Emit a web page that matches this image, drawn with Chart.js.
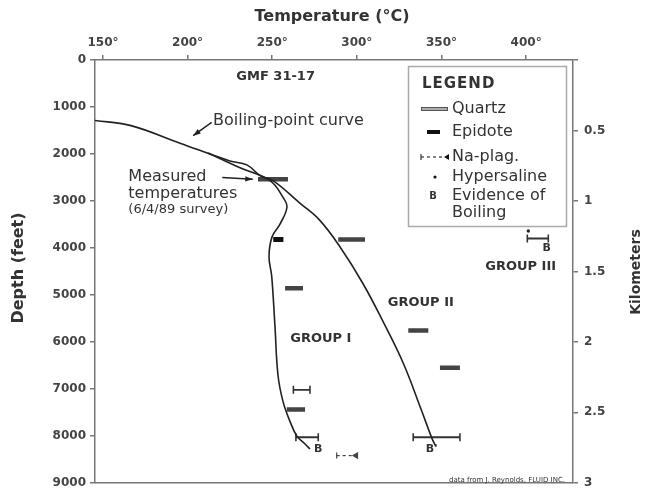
<!DOCTYPE html>
<html>
<head>
<meta charset="utf-8">
<script src="https://cdn.jsdelivr.net/npm/chart.js@4.4.1/dist/chart.umd.min.js"></script>
<style>
  html, body { margin: 0; background: #fff; }
  #wrap { width: 651px; height: 496px; }
</style>
</head>
<body>
<div id="wrap"><canvas id="chart"></canvas></div>
<script>
// tick values
const tempTicks = [150, 200, 250, 300, 350, 400];
const depthTicks = [0, 1000, 2000, 3000, 4000, 5000, 6000, 7000, 8000, 9000];
const kmTicks = [0, 0.5, 1, 1.5, 2, 2.5, 3];

// boiling-point curve (temp C, depth ft)
const boilTemp  = [145.3, 166, 195.5, 225, 235, 243, 250.5, 266.5, 278, 290, 303.5, 315.5, 327.5, 338, 344.3, 346.5];
const boilDepth = [1287, 1392, 1770, 2148, 2232, 2463, 2568, 3051, 3408, 3975, 4752, 5570, 6460, 7440, 8049, 8217];

// measured temperatures 6/4/89
const measTemp  = [212.1, 231, 248.7, 256.4, 258.7, 254.6, 249.9, 248.1, 249.7, 251.6, 253.4, 256.4, 260.5, 264.6, 269.4, 272.3];
const measDepth = [1980, 2295, 2568, 2925, 3135, 3492, 3765, 4185, 4605, 5655, 6705, 7272, 7692, 8007, 8175, 8280];

// quartz inclusion ranges
const quartzDepth = [2541, 4860, 7440, 3822, 5760, 6552];
const quartzLow   = [241.6, 257.6, 258.6, 289.0, 330.4, 349.1];
const quartzHigh  = [259.3, 268.2, 269.4, 304.8, 342.2, 360.9];

// quartz ranges drawn with end caps
const cappedDepth = [7020, 8030, 8030, 3800];
const cappedLow   = [262.5, 264.0, 333.3, 400.7];
const cappedHigh  = [272.3, 277.2, 360.9, 413.1];

const epidoteDepth = [3822];
const epidoteLow   = [250.6];
const epidoteHigh  = [256.6];

const naplagDepth = [8421];
const naplagLow   = [288.1];
const naplagHigh  = [299.5];

const hyperTemp  = [401.3];
const hyperDepth = [3640];

// evidence of boiling marks
const boilMarkText  = ['B', "B'", 'B'];
const boilMarkTemp  = [277.2, 344.2, 412.1];
const boilMarkDepth = [8280, 8280, 4010];

const groupNames = ['GROUP I', 'GROUP II', 'GROUP III'];
const groupTemp  = [278.7, 337.8, 396.8];
const groupDepth = [5934, 5166, 4395];

const FONT = '"DejaVu Sans", "Liberation Sans", sans-serif';

const toPoints = (xs, ys) => xs.map((x, i) => ({ x: x, y: ys[i] }));
const segments = (lo, hi, d) => {
    const out = [];
    d.forEach((dep, i) => {
        out.push({ x: lo[i], y: dep }, { x: hi[i], y: dep }, { x: null, y: null });
    });
    return out;
};

const decor = {
    id: 'decor',
    afterDraw(chart) {
        const { ctx, chartArea: a, scales } = chart;
        const X = v => scales.x.getPixelForValue(v);
        const Y = v => scales.y.getPixelForValue(v);
        const text = (s, x, y, font, align, spacing) => {
            ctx.font = font;
            ctx.textAlign = align || 'left';
            ctx.textBaseline = 'middle';
            ctx.letterSpacing = spacing || '0px';
            ctx.fillText(s, x, y);
        };
        const arrow = (x1, y1, x2, y2) => {
            ctx.beginPath(); ctx.moveTo(x1, y1); ctx.lineTo(x2, y2); ctx.stroke();
            const ang = Math.atan2(y2 - y1, x2 - x1);
            ctx.beginPath();
            ctx.moveTo(x2, y2);
            ctx.lineTo(x2 - 8 * Math.cos(ang - 0.35), y2 - 8 * Math.sin(ang - 0.35));
            ctx.lineTo(x2 - 8 * Math.cos(ang + 0.35), y2 - 8 * Math.sin(ang + 0.35));
            ctx.closePath(); ctx.fill();
        };
        ctx.save();

        // bottom frame line
        ctx.strokeStyle = '#777';
        ctx.lineWidth = 1.5;
        ctx.beginPath(); ctx.moveTo(a.left, a.bottom); ctx.lineTo(a.right, a.bottom); ctx.stroke();

        ctx.fillStyle = '#333';
        // axis titles
        text('Temperature (°C)', 332, 17, 'bold 16px ' + FONT, 'center');
        ctx.save(); ctx.translate(19, 268); ctx.rotate(-Math.PI / 2);
        text('Depth (feet)', 0, 0, 'bold 16px ' + FONT, 'center');
        ctx.restore();
        ctx.save(); ctx.translate(636, 272); ctx.rotate(-Math.PI / 2);
        text('Kilometers', 0, 0, 'bold 14px ' + FONT, 'center');
        ctx.restore();

        // well name
        text('GMF 31-17', X(228.8), Y(363), 'bold 13px ' + FONT, 'left');

        // curve labels
        text('Boiling-point curve', X(215), Y(1289), '16px ' + FONT, 'left');
        text('Measured', X(165), Y(2484), '16px ' + FONT, 'left');
        text('temperatures', X(165), Y(2841), '16px ' + FONT, 'left');
        text('(6/4/89 survey)', X(165), Y(3177), '13px ' + FONT, 'left');
        ctx.strokeStyle = '#222';
        ctx.fillStyle = '#222';
        ctx.lineWidth = 1.5;
        arrow(X(214.2), Y(1330), X(203.3), Y(1610));
        arrow(X(220.5), Y(2499), X(238.5), Y(2541));

        // group labels
        ctx.fillStyle = '#333';
        groupNames.forEach((g, i) => text(g, X(groupTemp[i]), Y(groupDepth[i]), 'bold 13px ' + FONT, 'center'));

        // evidence of boiling marks
        boilMarkText.forEach((b, i) => text(b, X(boilMarkTemp[i]), Y(boilMarkDepth[i]), 'bold 11px ' + FONT, 'center'));

        // footer
        text('data from J. Reynolds, FLUID INC.', 565, 480, '7px ' + FONT, 'right');

        // legend
        ctx.strokeStyle = '#aaa';
        ctx.lineWidth = 1.5;
        ctx.strokeRect(408.5, 66.5, 158, 160);
        ctx.fillStyle = '#333';
        text('LEGEND', 422, 84, 'bold 15px ' + FONT, 'left', '1px');
        const items = [['Quartz', 109], ['Epidote', 132], ['Na-plag.', 157], ['Hypersaline', 177], ['Evidence of', 196], ['Boiling', 213]];
        items.forEach(it => text(it[0], 452, it[1], '16px ' + FONT, 'left'));
        // quartz symbol
        ctx.lineCap = 'butt';
        ctx.strokeStyle = '#555'; ctx.lineWidth = 4;
        ctx.beginPath(); ctx.moveTo(421, 109); ctx.lineTo(448, 109); ctx.stroke();
        ctx.strokeStyle = '#ccc'; ctx.lineWidth = 1.5;
        ctx.beginPath(); ctx.moveTo(422, 109); ctx.lineTo(447, 109); ctx.stroke();
        // epidote symbol
        ctx.fillStyle = '#111';
        ctx.fillRect(427, 130, 13, 4);
        // na-plag symbol
        ctx.strokeStyle = '#333'; ctx.lineWidth = 1.2;
        ctx.setLineDash([3, 3]);
        ctx.beginPath(); ctx.moveTo(421, 157); ctx.lineTo(444, 157); ctx.stroke();
        ctx.setLineDash([]);
        ctx.beginPath(); ctx.moveTo(421, 154); ctx.lineTo(421, 160); ctx.stroke();
        ctx.beginPath(); ctx.moveTo(444, 157); ctx.lineTo(449, 154); ctx.lineTo(449, 160); ctx.closePath(); ctx.fill();
        // hypersaline symbol
        ctx.beginPath(); ctx.arc(435, 177, 1.6, 0, Math.PI * 2); ctx.fill();
        // evidence symbol
        ctx.fillStyle = '#333';
        text('B', 433, 196, 'bold 10px ' + FONT, 'center');

        ctx.restore();
    }
};

const tickFont = { family: FONT, size: 12, weight: 'bold' };
const gridOpts = { drawOnChartArea: false, drawTicks: true, tickLength: 5, color: '#777', lineWidth: 1.5 };
const borderOpts = { display: true, color: '#777', width: 1.5 };

new Chart(document.getElementById('chart'), {
    type: 'scatter',
    data: {
        datasets: [
            {
                label: 'Boiling-point curve',
                data: toPoints(boilTemp, boilDepth),
                showLine: true, borderColor: '#222', borderWidth: 1.6, pointRadius: 0, tension: 0.4
            },
            {
                label: 'Measured temperatures',
                data: toPoints(measTemp, measDepth),
                showLine: true, borderColor: '#222', borderWidth: 1.6, pointRadius: 0, tension: 0.4
            },
            {
                label: 'Quartz outer',
                data: segments(quartzLow, quartzHigh, quartzDepth),
                showLine: true, spanGaps: false, borderColor: '#444', borderWidth: 4.5, pointRadius: 0,
                borderCapStyle: 'butt'
            },
            {
                label: 'Quartz inner',
                data: segments(quartzLow, quartzHigh, quartzDepth),
                showLine: true, spanGaps: false, borderColor: '#c8c8c8', borderWidth: 1.5, pointRadius: 0,
                borderCapStyle: 'butt'
            },
            {
                label: 'Quartz capped',
                data: segments(cappedLow, cappedHigh, cappedDepth),
                showLine: true, spanGaps: false, borderColor: '#333', borderWidth: 1.8,
                pointStyle: 'line', rotation: 90, pointRadius: 4, pointBorderWidth: 1.6,
                pointBorderColor: '#333'
            },
            {
                label: 'Epidote',
                data: segments(epidoteLow, epidoteHigh, epidoteDepth),
                showLine: true, spanGaps: false, borderColor: '#111', borderWidth: 5, pointRadius: 0,
                borderCapStyle: 'butt'
            },
            {
                label: 'Na-plag.',
                data: segments(naplagLow, naplagHigh, naplagDepth),
                showLine: true, spanGaps: false, borderColor: '#444', borderWidth: 1.2, borderDash: [3, 3],
                pointStyle: ['line', 'triangle', 'line'], rotation: [90, -90, 0], pointRadius: 3,
                pointBorderColor: '#444', pointBackgroundColor: '#444', pointBorderWidth: 1.2
            },
            {
                label: 'Hypersaline',
                data: toPoints(hyperTemp, hyperDepth),
                pointRadius: 1.7, pointBackgroundColor: '#222', pointBorderWidth: 0
            }
        ]
    },
    options: {
        responsive: true,
        maintainAspectRatio: false,
        animation: false,
        layout: { padding: { top: 0, left: 0, right: 0, bottom: 7 } },
        plugins: { legend: { display: false }, tooltip: { enabled: false } },
        scales: {
            x: {
                type: 'linear', position: 'top', min: 145.3, max: 427.7,
                afterBuildTicks: s => { s.ticks = tempTicks.map(v => ({ value: v })); },
                afterFit: s => { s.height = 60; },
                ticks: { callback: v => v + '°', font: tickFont, color: '#444', padding: 5, maxRotation: 0 },
                grid: gridOpts, border: borderOpts
            },
            y: {
                type: 'linear', position: 'left', reverse: true, min: 0, max: 9000,
                afterBuildTicks: s => { s.ticks = depthTicks.map(v => ({ value: v })); },
                afterFit: s => { s.width = 95; },
                ticks: { callback: v => String(v), font: tickFont, color: '#444', padding: 4 },
                grid: gridOpts, border: borderOpts
            },
            km: {
                type: 'linear', position: 'right', reverse: true, min: 0, max: 3,
                afterBuildTicks: s => { s.ticks = kmTicks.map(v => ({ value: v })); },
                afterFit: s => { s.width = 78; },
                ticks: { callback: v => v === 0 ? '' : String(v), font: tickFont, color: '#444', padding: 6 },
                grid: gridOpts, border: borderOpts
            }
        }
    },
    plugins: [decor]
});
</script>
</body>
</html>
